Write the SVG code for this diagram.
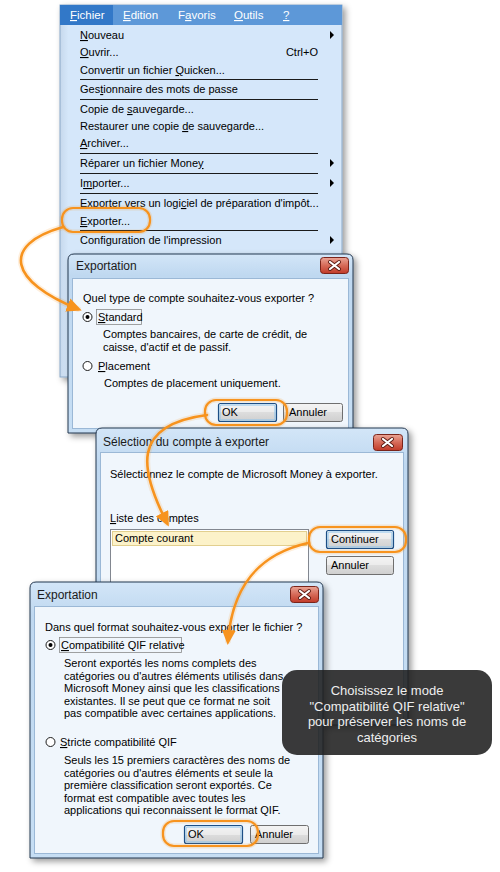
<svg xmlns="http://www.w3.org/2000/svg" width="500" height="872" viewBox="0 0 500 872">
<style>
.t{font-family:"Liberation Sans",Arial,sans-serif;font-size:11px;fill:#000}
.mbt{font-family:"Liberation Sans",Arial,sans-serif;font-size:11.5px;fill:#fff}
.ttl{font-family:"Liberation Sans",Arial,sans-serif;font-size:12px;fill:#1a1a1a}
.tip{font-family:"Liberation Sans",Arial,sans-serif;font-size:13px;fill:#eeeeee}
.u{text-decoration:underline}
.sep{stroke:#1a1a1a;stroke-width:1}
.frame{fill:url(#gFrame);stroke:#23364e;stroke-width:1}
.client{fill:#f0f6fc;stroke:#9bb8d6;stroke-width:1}
.btn{fill:url(#gBtn);stroke:#6f6f6f;stroke-width:1}
.btnd{fill:url(#gBtn);stroke:#1d4f86;stroke-width:1.2}
.btnin{fill:none;stroke:#8cc4ee;stroke-width:1}
.radio{fill:#fff;stroke:#1c1c1c;stroke-width:1}
.focus{fill:none;stroke:#8a8a8a;stroke-width:0.8}
.hl{fill:none;stroke:#f7931e;stroke-width:2.2}
.hlg{fill:none;stroke:#f7931e;stroke-width:5;opacity:0.18}
.cv{fill:none;stroke:#f7931e;stroke-width:2.6;stroke-linecap:round}
.cvg{fill:none;stroke:#f7931e;stroke-width:6;opacity:0.15;stroke-linecap:round}
.close{fill:url(#gClose);stroke:#7a241a;stroke-width:1}
.arr{fill:#000}
</style>
<defs>
<linearGradient id="gFrame" x1="0" y1="0" x2="0" y2="1">
<stop offset="0" stop-color="#d3e6f8"/>
<stop offset="0.12" stop-color="#bfd8f0"/>
<stop offset="1" stop-color="#c6def4"/>
</linearGradient>
<linearGradient id="gBtn" x1="0" y1="0" x2="0" y2="1">
<stop offset="0" stop-color="#f4f4f4"/>
<stop offset="0.5" stop-color="#ebebeb"/>
<stop offset="0.5" stop-color="#dddddd"/>
<stop offset="1" stop-color="#cfcfcf"/>
</linearGradient>
<linearGradient id="gClose" x1="0" y1="0" x2="0" y2="1">
<stop offset="0" stop-color="#eaa596"/>
<stop offset="0.5" stop-color="#d66a58"/>
<stop offset="1" stop-color="#c13a28"/>
</linearGradient>
<linearGradient id="gMenu" x1="0" y1="0" x2="1" y2="0">
<stop offset="0" stop-color="#c6d8ec"/>
<stop offset="0.03" stop-color="#d5e7fa"/>
<stop offset="1" stop-color="#d5e7fa"/>
</linearGradient>
<filter id="shadow" x="-10%" y="-10%" width="125%" height="125%">
<feDropShadow dx="3" dy="3" stdDeviation="3" flood-color="#000" flood-opacity="0.4"/>
</filter>
<marker id="ah" markerWidth="16" markerHeight="14" refX="11" refY="7" orient="auto" markerUnits="userSpaceOnUse">
<path d="M0,0 L15,7 L0,14 Z" fill="#f7931e"/>
</marker>
</defs>
<rect width="500" height="872" fill="#ffffff"/>

<g id="menu">
<rect x="60" y="5" width="282" height="372" fill="url(#gMenu)" stroke="#8aa8c8" stroke-width="1" filter="url(#shadow)"/>
<rect x="60" y="5" width="282" height="20" fill="#5d98d8"/>
<rect x="60" y="5" width="53" height="20" fill="#3278c8"/>
<text class="mbt" x="70" y="19"><tspan class="u">F</tspan>ichier</text>
<text class="mbt" x="123" y="19"><tspan class="u">E</tspan>dition</text>
<text class="mbt" x="178" y="19">F<tspan class="u">a</tspan>voris</text>
<text class="mbt" x="234" y="19"><tspan class="u">O</tspan>utils</text>
<text class="mbt" x="283" y="19"><tspan class="u">?</tspan></text>
<text class="t" x="80" y="39"><tspan class="u">N</tspan>ouveau</text>
<path class="arr" d="M330,31 L334,35 L330,39 Z"/>
<text class="t" x="80" y="56"><tspan class="u">O</tspan>uvrir...</text>
<text class="t" x="318" y="56" text-anchor="end">Ctrl+O</text>
<text class="t" x="80" y="74">Convertir un fichier <tspan class="u">Q</tspan>uicken...</text>
<line class="sep" x1="80" y1="79.5" x2="318" y2="79.5"/>
<text class="t" x="80" y="93">Ges<tspan class="u">t</tspan>ionnaire des mots de passe</text>
<line class="sep" x1="80" y1="99.5" x2="318" y2="99.5"/>
<text class="t" x="80" y="113">Copie de <tspan class="u">s</tspan>auvegarde...</text>
<text class="t" x="80" y="130">Restaurer une copie <tspan class="u">d</tspan>e sauvegarde...</text>
<text class="t" x="80" y="147"><tspan class="u">A</tspan>rchiver...</text>
<line class="sep" x1="80" y1="153.5" x2="318" y2="153.5"/>
<text class="t" x="80" y="167">Réparer un fichier Mone<tspan class="u">y</tspan></text>
<path class="arr" d="M330,159 L334,163 L330,167 Z"/>
<line class="sep" x1="80" y1="173.5" x2="318" y2="173.5"/>
<text class="t" x="80" y="187">I<tspan class="u">m</tspan>porter...</text>
<path class="arr" d="M330,179 L334,183 L330,187 Z"/>
<line class="sep" x1="80" y1="193.5" x2="318" y2="193.5"/>
<text class="t" x="80" y="207">Exporter vers un logi<tspan class="u">c</tspan>iel de préparation d'impôt...</text>
<text class="t" x="80" y="225"><tspan class="u">E</tspan>xporter...</text>
<line class="sep" x1="80" y1="230.5" x2="318" y2="230.5"/>
<text class="t" x="80" y="244">Configuration de l'impression</text>
<path class="arr" d="M330,236 L334,240 L330,244 Z"/>
</g>

<g id="dialog1">
<path class="frame" d="M68,433 V260 Q68,254 74,254 H347 Q353,254 353,260 V433 Z" filter="url(#shadow)"/>
<rect class="client" x="72.5" y="278.5" width="276" height="150"/>
<text class="ttl" x="76" y="270">Exportation</text>
<rect class="close" x="320.5" y="257.5" width="28" height="16" rx="3"/>
<path d="M330,262 L339,269 M339,262 L330,269" stroke="#5a1a12" stroke-width="4" stroke-linecap="round"/>
<path d="M330,262 L339,269 M339,262 L330,269" stroke="#ffffff" stroke-width="2.2" stroke-linecap="round"/>
<text class="t" x="83" y="302">Quel type de compte souhaitez-vous exporter ?</text>
<circle class="radio" cx="87.5" cy="317" r="4.5"/>
<circle cx="87.5" cy="317" r="2" fill="#000"/>
<rect class="focus" x="96.5" y="309.5" width="45" height="15"/>
<text class="t" x="98" y="321"><tspan class="u">S</tspan>tandard</text>
<text class="t" x="103" y="338">Comptes bancaires, de carte de crédit, de</text>
<text class="t" x="103" y="351">caisse, d'actif et de passif.</text>
<circle class="radio" cx="87.5" cy="366" r="4.5"/>
<text class="t" x="98" y="370"><tspan class="u">P</tspan>lacement</text>
<text class="t" x="104" y="387">Comptes de placement uniquement.</text>
<rect class="btnd" x="218.5" y="403.5" width="58" height="18" rx="2"/>
<rect class="btnin" x="220" y="405" width="55" height="15" rx="1"/>
<text class="t" x="222" y="416">OK</text>
<rect class="btn" x="283.5" y="403.5" width="59" height="18" rx="2"/>
<text class="t" x="289" y="416">Annuler</text>
</g>

<g id="dialog2">
<path class="frame" d="M96,725 V434 Q96,428 102,428 H402 Q408,428 408,434 V725 Z" filter="url(#shadow)"/>
<rect class="client" x="100.5" y="452.5" width="303" height="268"/>
<text class="ttl" x="103" y="446">Sélection du compte à exporter</text>
<rect class="close" x="373.5" y="434.5" width="29" height="16" rx="3"/>
<path d="M383,439 L392,446 M392,439 L383,446" stroke="#5a1a12" stroke-width="4" stroke-linecap="round"/>
<path d="M383,439 L392,446 M392,439 L383,446" stroke="#ffffff" stroke-width="2.2" stroke-linecap="round"/>
<text class="t" x="110" y="478">Sélectionnez le compte de Microsoft Money à exporter.</text>
<text class="t" x="110" y="522"><tspan class="u">L</tspan>iste des comptes</text>
<rect x="110.5" y="529.5" width="198" height="120" fill="#ffffff" stroke="#828790" stroke-width="1"/>
<rect x="112.5" y="531.5" width="194" height="14" fill="#fcf2c9" stroke="#e2cf8e" stroke-width="1"/>
<text class="t" x="115" y="542">Compte courant</text>
<rect class="btnd" x="326.5" y="530.5" width="67" height="18" rx="2"/>
<rect class="btnin" x="328" y="532" width="64" height="15" rx="1"/>
<text class="t" x="331" y="543">Continuer</text>
<rect class="btn" x="326.5" y="556.5" width="67" height="18" rx="2"/>
<text class="t" x="331" y="569">Annuler</text>
</g>

<g id="dialog3">
<path class="frame" d="M30,858 V588 Q30,582 36,582 H317 Q323,582 323,588 V858 Z" filter="url(#shadow)"/>
<rect class="client" x="34.5" y="606.5" width="284" height="247"/>
<text class="ttl" x="37" y="599">Exportation</text>
<rect class="close" x="290.5" y="586.5" width="28" height="16" rx="3"/>
<path d="M300,591 L309,598 M309,591 L300,598" stroke="#5a1a12" stroke-width="4" stroke-linecap="round"/>
<path d="M300,591 L309,598 M309,591 L300,598" stroke="#ffffff" stroke-width="2.2" stroke-linecap="round"/>
<text class="t" x="45" y="631">Dans quel format souhaitez-vous exporter le fichier ?</text>
<circle class="radio" cx="50.5" cy="645" r="4.5"/>
<circle cx="50.5" cy="645" r="2" fill="#000"/>
<rect class="focus" x="59.5" y="637.5" width="122" height="15"/>
<text class="t" x="61" y="649"><tspan class="u">C</tspan>ompatibilité QIF relative</text>
<text class="t" x="64" y="667">Seront exportés les noms complets des</text>
<text class="t" x="64" y="680">catégories ou d'autres éléments utilisés dans</text>
<text class="t" x="64" y="692">Microsoft Money ainsi que les classifications</text>
<text class="t" x="64" y="705">existantes. Il se peut que ce format ne soit</text>
<text class="t" x="64" y="717">pas compatible avec certaines applications.</text>
<circle class="radio" cx="50.5" cy="742" r="4.5"/>
<text class="t" x="60" y="746"><tspan class="u">S</tspan>tricte compatibilité QIF</text>
<text class="t" x="64" y="764">Seuls les 15 premiers caractères des noms de</text>
<text class="t" x="64" y="777">catégories ou d'autres éléments et seule la</text>
<text class="t" x="64" y="789">première classification seront exportés. Ce</text>
<text class="t" x="64" y="802">format est compatible avec toutes les</text>
<text class="t" x="64" y="814">applications qui reconnaissent le format QIF.</text>
<rect class="btnd" x="184.5" y="825.5" width="58" height="18" rx="2"/>
<rect class="btnin" x="186" y="827" width="55" height="15" rx="1"/>
<text class="t" x="188" y="838">OK</text>
<rect class="btn" x="250.5" y="825.5" width="58" height="18" rx="2"/>
<text class="t" x="255" y="838">Annuler</text>
</g>

<g id="tooltip">
<rect x="282" y="670" width="210" height="85" rx="15" fill="#1f1f1f" opacity="0.88"/>
<text class="tip" x="387" y="695" text-anchor="middle">Choisissez le mode</text>
<text class="tip" x="387" y="711" text-anchor="middle">"Compatibilité QIF relative"</text>
<text class="tip" x="387" y="726" text-anchor="middle">pour préserver les noms de</text>
<text class="tip" x="387" y="742" text-anchor="middle">catégories</text>
</g>

<g id="connectors">
<rect class="hlg" x="62" y="208" width="88" height="24" rx="11"/>
<rect class="hl" x="62" y="208" width="88" height="24" rx="11"/>
<rect class="hlg" x="205" y="400" width="82" height="25" rx="11"/>
<rect class="hl" x="205" y="400" width="82" height="25" rx="11"/>
<rect class="hlg" x="309" y="527" width="97" height="25" rx="11"/>
<rect class="hl" x="309" y="527" width="97" height="25" rx="11"/>
<rect class="hlg" x="163" y="821" width="95" height="25" rx="11"/>
<rect class="hl" x="163" y="821" width="95" height="25" rx="11"/>
<path class="cvg" d="M63,227 C0,245 10,282 78,309"/>
<path class="cv" d="M63,227 C0,245 10,282 78,309" marker-end="url(#ah)"/>
<path class="cvg" d="M207,415 C130,425 140,470 167,523"/>
<path class="cv" d="M207,415 C130,425 140,470 167,523" marker-end="url(#ah)"/>
<path class="cvg" d="M308,543 C255,555 232,590 228,641"/>
<path class="cv" d="M308,543 C255,555 232,590 228,641" marker-end="url(#ah)"/>
</g>
</svg>
